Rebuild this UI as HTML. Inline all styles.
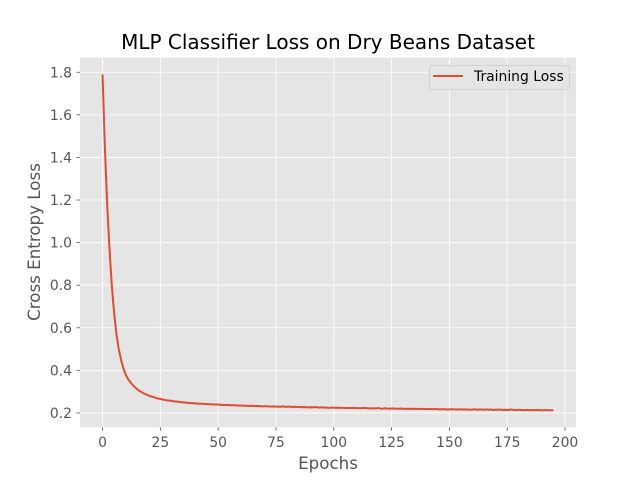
<!DOCTYPE html>
<html><head><meta charset="utf-8"><style>
body{margin:0;background:#fff}
svg{display:block;font-family:"DejaVu Sans","Liberation Sans",sans-serif}
</style></head><body>
<svg id="chart" width="640" height="480">
<rect x="0" y="0" width="640" height="480" fill="#fff"/>
<rect x="80" y="57.6" width="496" height="369.6" fill="#e5e5e5"/>
<g id="grid"></g><g id="ticks"></g>
<g id="series"></g>
<text x="328" y="49" text-anchor="middle" font-size="20" fill="#000">MLP Classifier Loss on Dry Beans Dataset</text>
<text x="328" y="469" text-anchor="middle" font-size="16.7" fill="#555">Epochs</text>
<text transform="translate(40,242) rotate(-90)" text-anchor="middle" font-size="16.7" fill="#555">Cross Entropy Loss</text>
<g>
<rect x="429.5" y="65.5" width="140" height="24" rx="3" fill="#e5e5e5" stroke="#ccc" stroke-width="0.8"/>
<line x1="433" y1="76" x2="463" y2="76" stroke="#E24A33" stroke-width="2"/>
<text x="474" y="81" font-size="13.9" fill="#000">Training Loss</text>
</g>
</svg>
<script>
const epochsCount = 196;
const loss = [1.79,1.45,1.18,0.97,0.80,0.67,0.57,0.50,0.45,0.41,
0.38,0.36,0.345,0.332,0.321,0.311,0.303,0.297,0.291,0.286,
0.281,0.278,0.275,0.271,0.268,0.266,0.263,0.261,0.259,0.258,
0.257,0.254,0.254,0.252,0.251,0.249,0.249,0.247,0.247,0.246,
0.245,0.244,0.244,0.243,0.242,0.242,0.241,0.241,0.240,0.240,
0.240,0.238,0.238,0.237,0.238,0.236,0.236,0.236,0.235,0.235,
0.235,0.234,0.234,0.233,0.234,0.233,0.232,0.233,0.232,0.231,
0.232,0.231,0.231,0.230,0.231,0.230,0.230,0.229,0.231,0.229,
0.229,0.230,0.228,0.229,0.228,0.228,0.227,0.228,0.227,0.226,
0.227,0.226,0.228,0.226,0.225,0.227,0.225,0.225,0.224,0.225,
0.225,0.224,0.225,0.224,0.224,0.223,0.224,0.223,0.223,0.224,
0.222,0.223,0.222,0.224,0.222,0.222,0.221,0.222,0.221,0.223,
0.221,0.220,0.222,0.221,0.220,0.221,0.221,0.220,0.220,0.221,
0.220,0.219,0.220,0.219,0.220,0.219,0.219,0.218,0.219,0.219,
0.218,0.219,0.218,0.218,0.219,0.217,0.218,0.217,0.218,0.216,
0.217,0.218,0.217,0.216,0.217,0.217,0.216,0.217,0.216,0.215,
0.216,0.217,0.215,0.216,0.216,0.215,0.217,0.215,0.216,0.214,
0.215,0.215,0.216,0.214,0.215,0.214,0.215,0.216,0.214,0.214,
0.215,0.214,0.213,0.214,0.214,0.213,0.214,0.213,0.214,0.213,
0.213,0.213,0.214,0.212,0.213,0.213];
const xTicks = [0,25,50,75,100,125,150,175,200];
const yTicks = [0.2,0.4,0.6,0.8,1.0,1.2,1.4,1.6,1.8];
const NS="http://www.w3.org/2000/svg";
const xMin=-0.05*(loss.length-1), xMax=(loss.length-1)*1.05;
const yLo=Math.min(...loss), yHi=Math.max(...loss), yPad=(yHi-yLo)*0.05;
function sx(v){return 80+(v-xMin)/(xMax-xMin)*496;}
function sy(v){return 427.2-(v-(yLo-yPad))/((yHi+yPad)-(yLo-yPad))*369.6;}
const grid=document.getElementById('grid'), ticks=document.getElementById('ticks');
function mk(tag,attrs,parent){const e=document.createElementNS(NS,tag);for(const k in attrs)e.setAttribute(k,attrs[k]);parent.appendChild(e);return e;}
xTicks.forEach(t=>{const x=sx(t);
 const g=mk('line',{x1:x,x2:x,y1:57.6,y2:427.2,stroke:'#fff','stroke-width':0.8},grid);
 
 
 mk('line',{x1:x,x2:x,y1:427.2,y2:430.7,stroke:'#555','stroke-width':0.8},ticks);
 const l=mk('text',{x:x,y:447,'text-anchor':'middle','font-size':13.9,fill:'#555'},ticks);l.textContent=t;
 
 });
yTicks.forEach(t=>{const y=sy(t);
 const g=mk('line',{x1:80,x2:576,y1:y,y2:y,stroke:'#fff','stroke-width':0.8},grid);
 
 
 mk('line',{x1:76.5,x2:80,y1:y,y2:y,stroke:'#555','stroke-width':0.8},ticks);
 const l=mk('text',{x:72,y:y+5,'text-anchor':'end','font-size':13.9,fill:'#555'},ticks);l.textContent=t.toFixed(1);
 
 });
const p=mk('path',{d:loss.map((v,i)=>(i?'L':'M')+sx(i).toFixed(2)+','+sy(v).toFixed(2)).join(''),fill:'none',stroke:'#E24A33','stroke-width':2,'stroke-linejoin':'round'},document.getElementById('series'));


</script>
</body></html>
